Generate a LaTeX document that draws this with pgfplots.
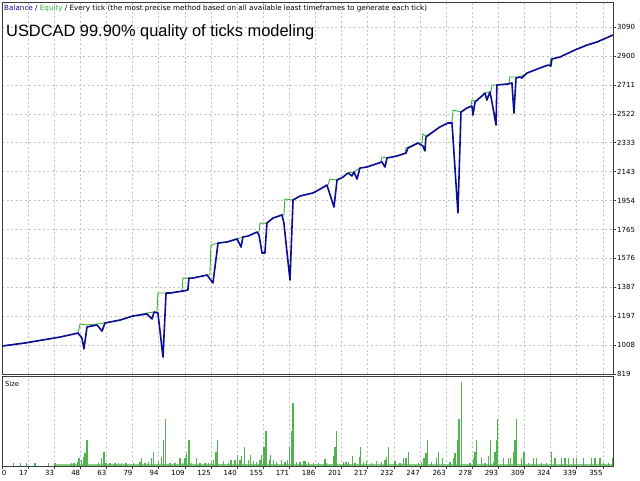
\documentclass[border=0pt]{standalone}
\usepackage{pgfplots}
\pgfplotsset{compat=1.18}
\usepackage{fontspec}
\setmainfont{DejaVu Sans}
\newfontfamily\arial{Liberation Sans}
\definecolor{bal}{RGB}{12,12,150}
\definecolor{eq}{RGB}{60,175,60}
\definecolor{gridc}{RGB}{195,195,195}
\definecolor{framec}{RGB}{60,60,60}
\definecolor{barc}{RGB}{80,180,80}

\begin{document}
\begin{tikzpicture}
\useasboundingbox[fill=white] (0pt,0pt) rectangle (640pt,480pt);
\pgfplotsset{
  mtbase/.style={
    scale only axis, width=611pt, xmin=0, xmax=360.9,
    axis line style={framec, line width=0.8pt},
    grid style={gridc, dash pattern=on 2pt off 2.5pt, line width=0.6pt},
    xtick={0,15.43,...,356},
    xmajorgrids,
    tick style={framec, line width=0.6pt},
  }
}

% balance / equity panel
\begin{axis}[mtbase, at={(2pt,106pt)}, anchor=south west, height=372pt,
  ymin=819, ymax=3254,
  ytick={819,1008,1197,1387,1576,1765,1954,2143,2333,2522,2711,2900,3090},
  yticklabels={819,1008,1197,1387,1576,1765,1954,2143,2333,2522,2711,2900,3090},
  ymajorgrids, ytick pos=right, yticklabel pos=right,
  xticklabels={}, xtick style={draw=none},
  tick align=outside, major tick length=3pt,
  yticklabel style={font=\fontsize{7}{8}\selectfont, inner sep=1pt},
]
\addplot[eq, line width=0.9pt] coordinates {
(0,1002)(13.6,1022)(34.3,1061)(44.9,1087)(46.1,1146)(50.2,1140)(56.1,1146)
(60.8,1153)(69.7,1172)(77.4,1199)(85.6,1218)(89.8,1225)(91.5,1225)(92.1,1349)
(99.2,1349)(106.3,1362)(106.9,1447)(112.8,1447)(121.1,1467)(122.8,1467)
(123.4,1663)(127.6,1676)(132.9,1683)(138.8,1703)(142.3,1716)(145.3,1722)
(150.6,1748)(151.8,1748)(152.4,1807)(156.5,1807)(160.1,1840)(165.4,1860)
(166.5,1860)(167.1,1964)(171.9,1958)(176.0,1984)(183.7,2004)(189.0,2036)
(192.5,2056)(193.7,2095)(197.9,2089)(201.4,2108)(204.4,2135)(207.9,2141)
(211.4,2167)(215.6,2174)(223.8,2207)(224.4,2239)(227.4,2233)(233.3,2246)
(238.0,2265)(238.6,2298)(245.7,2331)(248.1,2331)(248.6,2390)(250.4,2377)
(254.5,2403)(258.7,2436)(263.4,2462)(265.8,2468)(266.4,2547)(271.1,2534)
(274.6,2560)(277.0,2573)(277.6,2612)(279.4,2606)(283.5,2639)(285.3,2658)
(288.2,2665)(288.8,2665)(289.4,2711)(292.3,2711)(298.8,2717)(299.4,2717)
(300.0,2763)(303.6,2763)(305.9,2763)(310.1,2789)(317.8,2822)(322.5,2841)
(323.6,2841)(324.2,2881)(329.6,2894)(338.4,2940)(345.5,2972)(351.4,2992)
(360.9,3038)
};
\addplot[bal, line width=1.6pt, line join=round] coordinates {
(0,1002)(13.6,1022)(34.3,1061)(44.9,1087)(47.2,1055)(48.4,983)(50.2,1127)
(56.1,1140)(59.1,1100)(60.8,1153)(69.7,1172)(77.4,1199)(85.6,1212)(88.6,1179)
(89.8,1225)(92.1,1218)(95.1,930)(96.9,1349)(99.2,1349)(106.9,1362)(109.8,1369)
(110.4,1447)(112.8,1447)(121.1,1467)(124.6,1415)(127.6,1676)(132.9,1683)
(138.8,1703)(141.2,1650)(142.3,1716)(145.3,1722)(150.6,1748)(151.8,1729)
(153.6,1611)(155.3,1611)(156.5,1807)(160.1,1840)(165.4,1860)(166.5,1807)
(170.1,1434)(171.9,1958)(176.0,1984)(183.7,2004)(189.0,2036)(191.9,2056)
(196.1,1912)(197.9,2089)(201.4,2108)(204.4,2135)(206.7,2115)(207.9,2141)
(209.7,2095)(211.4,2167)(215.6,2174)(224.4,2207)(226.2,2174)(227.4,2233)
(233.3,2246)(238.6,2265)(239.8,2298)(245.7,2331)(248.6,2311)(249.8,2279)
(250.4,2370)(254.5,2403)(256.9,2423)(258.7,2436)(263.4,2462)(265.8,2462)
(269.3,1873)(271.1,2534)(274.6,2560)(277.6,2573)(278.2,2514)(279.4,2599)
(283.5,2639)(285.3,2658)(286.4,2612)(288.2,2665)(289.4,2599)(291.8,2449)
(292.3,2711)(298.8,2717)(301.2,2724)(302.4,2527)(303.6,2756)(305.9,2763)
(307.1,2756)(310.1,2789)(317.8,2822)(322.5,2841)(324.2,2835)(324.8,2881)
(329.6,2894)(338.4,2940)(345.5,2972)(351.4,2992)(360.9,3038)
};
\end{axis}

% size panel
\begin{axis}[mtbase, at={(2pt,14pt)}, anchor=south west, height=90pt,
  ymin=0, ymax=90, ytick=\empty,
  xtick pos=bottom, tick align=outside, major tick length=3pt,
  xticklabels={\makebox[0pt][l]{0},17,33,48,63,79,94,109,125,140,155,171,186,201,217,232,247,263,278,293,309,324,339,355},
  xticklabel style={anchor=north east, font=\fontsize{7}{8}\selectfont, inner sep=1pt, xshift=1pt},
]
\addplot[fill=barc!70, draw=none] coordinates {(31,1.8) (360.9,1.8)} \closedcycle;
\addplot[ycomb, barc, line width=1.3pt] coordinates {
(6.7,3.3)(11.0,3)(14.6,3)(19.5,3)(27.4,2.7)(31.3,2.7)(41.2,3)(42.5,3)(44.5,4)
(45.5,7.7)(47.1,6)(48.0,8.7)(49.0,13)(50.2,26)(56.9,3)(58.9,7.7)(60.2,14)
(61.4,3)(63.8,2.7)(66.7,3)(68.7,3)(70.7,3)(73.2,3)(77.5,3)(81.5,4)(82.5,7.7)
(84.5,3)(86.4,4)(88.4,7.7)(89.4,14)(92.3,5.3)(94.3,9.3)(95.3,26)(96.7,46.7)
(99.2,3)(102.2,3)(105.1,7.7)(106.7,3)(108.1,7.7)(109.1,12.7)(110.4,26)
(112.0,3)(115.0,7.7)(116.9,3)(119.9,3)(121.8,3)(123.8,4)(124.8,6)(126.4,14)
(127.4,26)(130.7,5.3)(133.7,3)(135.2,6)(137.6,6)(139.0,10.7)(140.6,6)
(141.6,10)(143.1,19.3)(145.5,6)(146.9,10.7)(148.4,5.3)(150.4,4.3)(152.4,6)
(153.4,11)(154.7,19.3)(155.9,35)(157.9,6)(158.7,11)(160.2,6)(162.2,4.3)
(165.2,6)(167.1,4.3)(168.5,6)(169.7,19.3)(171.1,35)(171.9,63.3)(174.0,4.3)
(176.0,4.3)(177.9,5.3)(178.9,5.3)(180.9,4.3)(183.9,3)(186.8,3)(190.8,6.7)
(191.8,2.7)(195.7,10)(196.7,19.3)(197.7,35)(201.6,4.3)(203.2,4.3)(204.5,4.3)
(207.1,10)(208.5,3)(211.0,9.3)(211.8,19.3)(213.4,4.3)(215.4,5.3)(218.3,3)
(221.3,5.3)(224.2,4.3)(226.2,6)(227.2,9.3)(228.1,19.3)(232.1,5.3)(235.1,3)
(237.0,7.7)(238.6,7.7)(240.0,14)(245.9,3)(247.9,4.3)(249.2,7.7)(250.4,13.3)
(251.2,26)(253.8,4.3)(256.7,7.7)(257.7,14)(260.3,7.7)(264.6,4.3)(266.6,7.7)
(267.5,12.7)(268.9,26)(269.9,46.7)(271.3,84)(276.4,3)(278.4,7.7)(279.4,14)
(280.3,26)(283.3,7.7)(285.3,3)(287.2,10)(288.6,26)(290.2,4.3)(291.2,14)
(292.2,26)(292.7,46.7)(296.1,7.7)(299.0,7.7)(300.4,7.7)(302.0,14)(303.0,26)
(303.9,46.7)(306.9,7.7)(308.3,14)(310.8,3)(313.8,7.7)(315.8,7.7)(318.8,3)
(321.7,3)(324.7,14)(326.6,7.7)(330.6,7.7)(332.5,7.7)(334.5,7.7)(337.4,7.7)
(339.4,7.7)(343.3,7.7)(348.3,7.7)(350.3,7.7)(353.3,7.7)(355.3,3)(358.1,3)
(360.5,7.7)
};
\end{axis}

\node[anchor=base west, inner sep=0, font=\fontsize{7.2}{8}\selectfont] at (4pt,469pt)
  {\textcolor{bal}{Balance} / \textcolor{eq}{Equity} / Every tick (the most precise method based on all available least timeframes to generate each tick)};
\node[anchor=base west, inner sep=0, font=\arial\fontsize{16.4}{18}\selectfont] at (6pt,443pt)
  {USDCAD 99.90\% quality of ticks modeling};
\node[anchor=base west, inner sep=0, font=\fontsize{6.8}{8}\selectfont] at (5pt,94pt) {Size};
\end{tikzpicture}
\end{document}
